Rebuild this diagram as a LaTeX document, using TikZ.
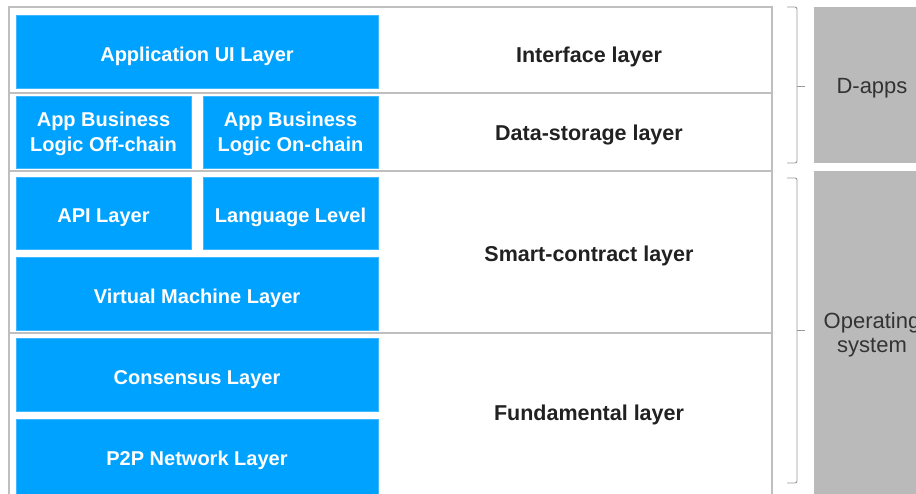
\documentclass[tikz,border=0pt]{standalone}
\usepackage{fontspec}
\setmainfont{Liberation Sans}
\begin{document}
\begin{tikzpicture}[x=1pt,y=-1pt,
  frameline/.style={draw=black!25,line width=1.4pt},
  bluebox/.style={fill=bluefill,draw=blueedge,line width=0.8pt},
  bluetext/.style={text=white,font=\fontsize{20}{25}\selectfont\bfseries,align=center,inner sep=0pt},
  layertext/.style={text=black!87,font=\fontsize{21.5}{26}\selectfont\bfseries,anchor=base,inner sep=0pt},
  graybox/.style={fill=black!27,draw=none},
  graytext/.style={text=black!80,font=\fontsize{22}{24}\selectfont,align=center,inner sep=0pt},
  bracket/.style={draw=black!40,line width=0.9pt,rounded corners=2pt}]
\definecolor{bluefill}{HTML}{00A2FF}
\definecolor{blueedge}{HTML}{40B8FF}
\useasboundingbox (0,0) rectangle (916,493);
\fill[white] (0,0) rectangle (916,493);
% frame
\draw[frameline] (9,500) -- (9,7) -- (772,7) -- (772,500);
\draw[frameline] (9,93) -- (772,93);
\draw[frameline] (9,171) -- (772,171);
\draw[frameline] (9,333) -- (772,333);
% blue boxes
\path[bluebox] (16,15) rectangle (378,88);
\node[bluetext,anchor=base] (ui) at (197,61) {Application UI Layer};
\path[bluebox] (16,96) rectangle (191,168);
\node[bluetext] (off) at (103.5,134) {App Business\\Logic Off-chain};
\path[bluebox] (203,96) rectangle (378,168);
\node[bluetext] (on) at (290.5,134) {App Business\\Logic On-chain};
\path[bluebox] (16,177) rectangle (191,249);
\node[bluetext,anchor=base] (api) at (103.5,222) {API Layer};
\path[bluebox] (203,177) rectangle (378,249);
\node[bluetext,anchor=base] (lang) at (290.5,222) {Language Level};
\path[bluebox] (16,257) rectangle (378,330);
\node[bluetext,anchor=base] (vm) at (197,303) {Virtual Machine Layer};
\path[bluebox] (16,338) rectangle (378,411);
\node[bluetext,anchor=base] (cons) at (197,384) {Consensus Layer};
\path[bluebox] (16,419) rectangle (378,500);
\node[bluetext,anchor=base] (p2p) at (197,465) {P2P Network Layer};
% layer labels
\node[layertext] (iface) at (589,62) {Interface layer};
\node[layertext] (data) at (589,140) {Data-storage layer};
\node[layertext] (smart) at (589,261) {Smart-contract layer};
\node[layertext] (fund) at (589,420) {Fundamental layer};
% brackets
\draw[bracket] (787,7) -- (797,7) -- (797,163) -- (787,163);
\draw[bracket] (797,86) -- (805,86);
\draw[bracket] (787,178) -- (797,178) -- (797,483) -- (787,483);
\draw[bracket] (797,330) -- (805,330);
% gray boxes
\path[graybox] (814,7) rectangle (930,163);
\node[graytext,anchor=base] (dapps) at (872,93) {D-apps};
\path[graybox] (814,171) rectangle (930,500);
\node[graytext] (os) at (872,335) {Operating\\system};
\end{tikzpicture}
\end{document}
